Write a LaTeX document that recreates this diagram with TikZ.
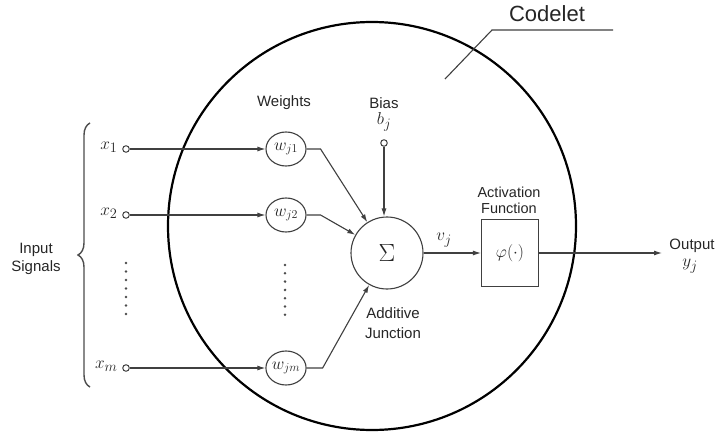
\documentclass[tikz,border=0pt]{standalone}
\usepackage{fontspec}
\setmainfont{Liberation Sans}
\usetikzlibrary{arrows.meta,shapes.geometric,decorations.pathreplacing}
\begin{document}
\begin{tikzpicture}[x=1pt,y=-1pt,
 every node/.style={text=black!85},
 lbl/.style={font=\fontsize{15}{17}\selectfont},
 mth/.style={font=\fontsize{19}{21}\selectfont},
 sig/.style={draw=black!75,line width=1.1pt},
 arr/.style={sig,-{Latex[length=8pt,width=5pt]}},
 port/.style={circle,draw=black!75,line width=1pt,inner sep=0pt,minimum size=6.5pt,fill=white},
 wt/.style={ellipse,draw=black!75,line width=1.1pt,inner sep=0pt,minimum width=40pt,minimum height=34pt,font=\fontsize{17}{19}\selectfont},
 dotmark/.style={circle,fill=black!70,inner sep=0pt,minimum size=2.8pt}
]
\useasboundingbox (0,0) rectangle (715,433);
\fill[white] (0,0) rectangle (715,433);
% codelet boundary
\node[circle,draw=black,line width=2.2pt,minimum size=408pt,inner sep=0pt] (cod) at (372,226) {};
% inputs
\node[port] (in1) at (126,149) {};
\node[port] (in2) at (126,215) {};
\node[port] (inm) at (126,368) {};
\node[mth,anchor=east] (x1) at (121,147) {$x_1$};
\node[mth,anchor=east] (x2) at (121,213) {$x_2$};
\node[mth,anchor=east] (xm) at (121,366) {$x_m$};
\foreach \k in {0,...,6} {
  \node[dotmark] (da\k) at (126,263+8.5*\k) {};
  \node[dotmark] (db\k) at (285,265+8.3*\k) {};
}
\draw[black!70,line width=1.4pt,decorate,decoration={brace,amplitude=12pt}] (90,387) -- (90,123);
\node[lbl,align=center,font=\fontsize{15}{18}\selectfont] (insig) at (36,259) {Input\\Signals};
% weights
\node[wt] (w1) at (286,149) {$w_{j1}$};
\node[wt] (w2) at (286,215) {$w_{j2}$};
\node[wt] (wm) at (286,368) {$w_{jm}$};
\node[lbl] (wl) at (284,103) {Weights};
% summing junction
\node[circle,draw=black!75,line width=1.1pt,minimum size=72pt,inner sep=0pt,font=\fontsize{28}{30}\selectfont] (sum) at (387,253) {$\Sigma$};
\node[port] (bias) at (384,143) {};
\node[lbl] (biasl) at (384,103) {Bias};
\node[mth] (bj) at (384,122) {$b_j$};
\node[lbl,align=center,font=\fontsize{15}{20}\selectfont] (addl) at (393,323) {Additive\\Junction};
% activation
\node[draw=black!75,line width=1.1pt,minimum width=57pt,minimum height=67pt,inner sep=0pt,font=\fontsize{18}{20}\selectfont] (act) at (510,253) {$\varphi(\cdot)$};
\node[lbl,align=center,font=\fontsize{14.5}{16}\selectfont] (actl) at (509,200) {Activation\\Function};
\node[mth] (vj) at (444,240) {$v_j$};
% output
\coordinate (out) at (662,253);
\node[lbl] (outl) at (692,246) {Output};
\node[mth] (yj) at (690,266) {$y_j$};
% codelet label
\node[font=\fontsize{22}{24}\selectfont] (codl) at (547,14) {Codelet};
\coordinate (c1) at (613,30);
\coordinate (c2) at (492,30);
\coordinate (c3) at (445,79);
% connectors
\draw[arr] (in1) -- (w1);
\draw[arr] (in2) -- (w2);
\draw[arr] (inm) -- (wm);
\draw[arr] (w1.east) -- ++(14,0) -- (sum);
\draw[arr] (w2.east) -- ++(14,0) -- (sum);
\draw[arr] (wm.east) -- ++(16,0) -- (sum);
\draw[arr] (bias) -- (bias |- sum.north);
\draw[arr] (sum) -- (act);
\draw[arr] (act) -- (out);
\draw[sig,line width=1.1pt] (c1) -- (c2) -- (c3);
\end{tikzpicture}
\end{document}
